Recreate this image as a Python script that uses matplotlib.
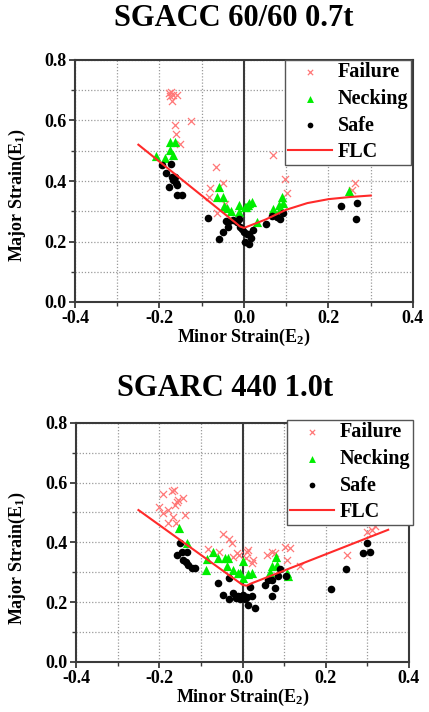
import numpy as np
import matplotlib
matplotlib.use('Agg')
import matplotlib.pyplot as plt
from matplotlib.ticker import MultipleLocator, FormatStrFormatter

plt.rcParams['font.family'] = ['Liberation Serif', 'DejaVu Serif']
plt.rcParams['font.weight'] = 'bold'
plt.rcParams['mathtext.fontset'] = 'custom'
plt.rcParams['mathtext.rm'] = 'Liberation Serif:bold'
plt.rcParams['mathtext.bf'] = 'Liberation Serif:bold'
plt.rcParams['mathtext.default'] = 'bf'

# ---- SGACC 60/60 0.7t ----
a_fail_x = [-0.178, -0.172, -0.175, -0.168, -0.170, -0.158, -0.126, -0.163, -0.161, -0.152,
            -0.066, -0.050, -0.080, -0.082, -0.063, -0.044, 0.069, 0.098, 0.102, 0.256, 0.262]
a_fail_y = [0.690, 0.695, 0.680, 0.685, 0.665, 0.683, 0.599, 0.585, 0.557, 0.522,
            0.447, 0.392, 0.376, 0.348, 0.293, 0.325, 0.486, 0.408, 0.359, 0.370, 0.392]
a_neck_x = [-0.208, -0.186, -0.176, -0.163, -0.174, -0.168, -0.058, -0.064, -0.050, -0.047,
            -0.040, -0.031, -0.013, -0.013, 0.002, 0.010, 0.005, 0.013, 0.019, 0.030,
            0.069, 0.082, 0.090, 0.092, 0.086, 0.248]
a_neck_y = [0.482, 0.475, 0.530, 0.530, 0.504, 0.486, 0.379, 0.348, 0.346, 0.317,
            0.312, 0.302, 0.320, 0.298, 0.315, 0.320, 0.315, 0.326, 0.331, 0.266,
            0.306, 0.320, 0.346, 0.326, 0.309, 0.368]
a_safe_x = [-0.194, -0.172, -0.185, -0.178, -0.171, -0.167, -0.163, -0.161, -0.159, -0.159,
            -0.147, -0.086, -0.060, -0.050, -0.039, -0.042, -0.037, -0.025, -0.017, -0.013,
            -0.010, -0.005, -0.001, 0.003, 0.011, 0.007, 0.013, 0.017, 0.021, 0.053,
            0.066, 0.077, 0.085, 0.092, 0.230, 0.268, 0.264]
a_safe_y = [0.453, 0.455, 0.425, 0.381, 0.414, 0.403, 0.414, 0.392, 0.386, 0.353,
            0.353, 0.279, 0.208, 0.232, 0.248, 0.268, 0.265, 0.270, 0.265, 0.276,
            0.248, 0.240, 0.232, 0.199, 0.193, 0.226, 0.226, 0.210, 0.237, 0.257,
            0.284, 0.282, 0.273, 0.293, 0.317, 0.326, 0.276]
a_flc_x = [-0.25, -0.02, -0.01, 0.0, 0.05, 0.10, 0.15, 0.20, 0.25, 0.30]
a_flc_y = [0.520, 0.262, 0.250, 0.245, 0.272, 0.305, 0.327, 0.340, 0.347, 0.352]

# ---- SGARC 440 1.0t ----
b_fail_x = [-0.200, -0.190, -0.192, -0.178, -0.178, -0.170, -0.165, -0.162, -0.158, -0.154,
            -0.160, -0.144, -0.138, -0.166, -0.082, -0.048, -0.056, -0.032, -0.026, -0.022,
            -0.013, -0.008, 0.010, 0.014, 0.008, 0.024, 0.026, 0.058, 0.072, 0.078,
            0.102, 0.114, 0.106, 0.138, 0.250, 0.298, 0.310, 0.318]
b_fail_y = [0.517, 0.562, 0.497, 0.508, 0.464, 0.570, 0.575, 0.525, 0.536, 0.542,
            0.464, 0.547, 0.492, 0.486, 0.377, 0.428, 0.369, 0.410, 0.399, 0.350,
            0.366, 0.358, 0.369, 0.375, 0.347, 0.330, 0.341, 0.358, 0.369, 0.364,
            0.386, 0.380, 0.341, 0.321, 0.358, 0.436, 0.442, 0.455]
b_neck_x = [-0.152, -0.134, -0.088, -0.085, -0.072, -0.058, -0.042, -0.038, -0.036, -0.022,
            -0.010, -0.005, 0.000, 0.002, 0.014, 0.022, 0.067, 0.070, 0.080, 0.083,
            0.106, 0.110]
b_neck_y = [0.447, 0.399, 0.306, 0.344, 0.369, 0.347, 0.347, 0.321, 0.347, 0.308,
            0.299, 0.297, 0.336, 0.280, 0.295, 0.299, 0.302, 0.321, 0.350, 0.325,
            0.299, 0.288]
b_safe_x = [-0.150, -0.158, -0.146, -0.142, -0.134, -0.136, -0.130, -0.122, -0.114, -0.058,
            -0.048, -0.032, -0.032, -0.022, -0.016, -0.010, -0.006, -0.002, 0.002, 0.006,
            0.010, 0.014, 0.019, 0.022, 0.030, 0.054, 0.062, 0.070, 0.072, 0.078,
            0.086, 0.090, 0.104, 0.212, 0.248, 0.290, 0.298, 0.306]
b_safe_y = [0.397, 0.358, 0.369, 0.341, 0.369, 0.333, 0.325, 0.314, 0.314, 0.264,
            0.225, 0.280, 0.210, 0.232, 0.214, 0.219, 0.210, 0.219, 0.225, 0.210,
            0.217, 0.191, 0.250, 0.219, 0.182, 0.258, 0.275, 0.275, 0.221, 0.247,
            0.288, 0.310, 0.288, 0.244, 0.310, 0.364, 0.399, 0.369]
b_flc_x = [-0.25, 0.0, 0.01, 0.02, 0.35]
b_flc_y = [0.508, 0.258, 0.255, 0.262, 0.442]

W, H = 429, 712
fig = plt.figure(figsize=(W / 100, H / 100), dpi=100)

def panel(rect, title, title_xy, leg_box, ylab_xy, fx, fy, nx, ny, sx, sy, lx, ly):
    ax = fig.add_axes(rect)
    ax.set_xlim(-0.4, 0.4)
    ax.set_ylim(0, 0.8)
    ax.xaxis.set_major_locator(MultipleLocator(0.2))
    ax.xaxis.set_minor_locator(MultipleLocator(0.1))
    ax.yaxis.set_major_locator(MultipleLocator(0.2))
    ax.yaxis.set_minor_locator(MultipleLocator(0.1))
    ax.xaxis.set_major_formatter(FormatStrFormatter('%.1f'))
    ax.yaxis.set_major_formatter(FormatStrFormatter('%.1f'))
    ax.grid(True, which='both', color='#9a9a9a', lw=0.9, ls=(0, (1, 1.5)))
    ax.set_axisbelow(True)
    for s in ax.spines.values():
        s.set_color('#3a3a3a')
        s.set_linewidth(1.5)
    ax.tick_params(which='major', direction='out', length=4, width=1.3, color='#3a3a3a',
                   labelsize=13, pad=2)
    ax.tick_params(which='minor', direction='out', length=3, width=1.0, color='#3a3a3a')
    ax.axvline(0, color='#3a3a3a', lw=1.5, zorder=1)

    ax.scatter(fx, fy, marker='x', s=26, color='#ff7878', linewidths=0.9, label='Failure', zorder=3)
    ax.scatter(nx, ny, marker='^', s=44, color='#00ee00', linewidths=0, label='Necking', zorder=4)
    ax.scatter(sx, sy, marker='o', s=30, color='black', linewidths=0, label='Safe', zorder=5)
    ax.plot(lx, ly, color='#ff2a2a', lw=1.5, label='FLC', zorder=6)

    ax.set_xlabel('Minor Strain(E$_2$)', fontsize=13, fontweight='bold', labelpad=0)
    ax.set_ylabel('Major Strain(E$_1$)', fontsize=13, fontweight='bold')
    ax.yaxis.set_label_coords(*ylab_xy)

    leg = ax.legend(loc='upper right', bbox_to_anchor=(leg_box[0] / W, 1 - leg_box[1] / H),
                    bbox_transform=fig.transFigure, borderaxespad=0, fancybox=False,
                    framealpha=1, edgecolor='#555555', handlelength=2.2, handletextpad=0.3,
                    labelspacing=0.33, borderpad=0.12, prop={'size': 14.5, 'weight': 'bold'},
                    markerscale=0.75)
    leg.get_frame().set_linewidth(1.0)
    fig.text(title_xy[0] / W, 1 - title_xy[1] / H, title, fontsize=22, fontweight='bold',
             ha='center', va='center')
    return ax

panel([75 / W, 1 - 302 / H, 338 / W, 242 / H], 'SGACC 60/60 0.7t', (234, 18), (411, 60),
      (-0.139, 0.442),
      a_fail_x, a_fail_y, a_neck_x, a_neck_y, a_safe_x, a_safe_y, a_flc_x, a_flc_y)
panel([76 / W, 1 - 662 / H, 333 / W, 239.3 / H], 'SGARC 440 1.0t', (225, 388), (413, 420),
      (-0.144, 0.435),
      b_fail_x, b_fail_y, b_neck_x, b_neck_y, b_safe_x, b_safe_y, b_flc_x, b_flc_y)

fig.savefig('out.png', dpi=100)
